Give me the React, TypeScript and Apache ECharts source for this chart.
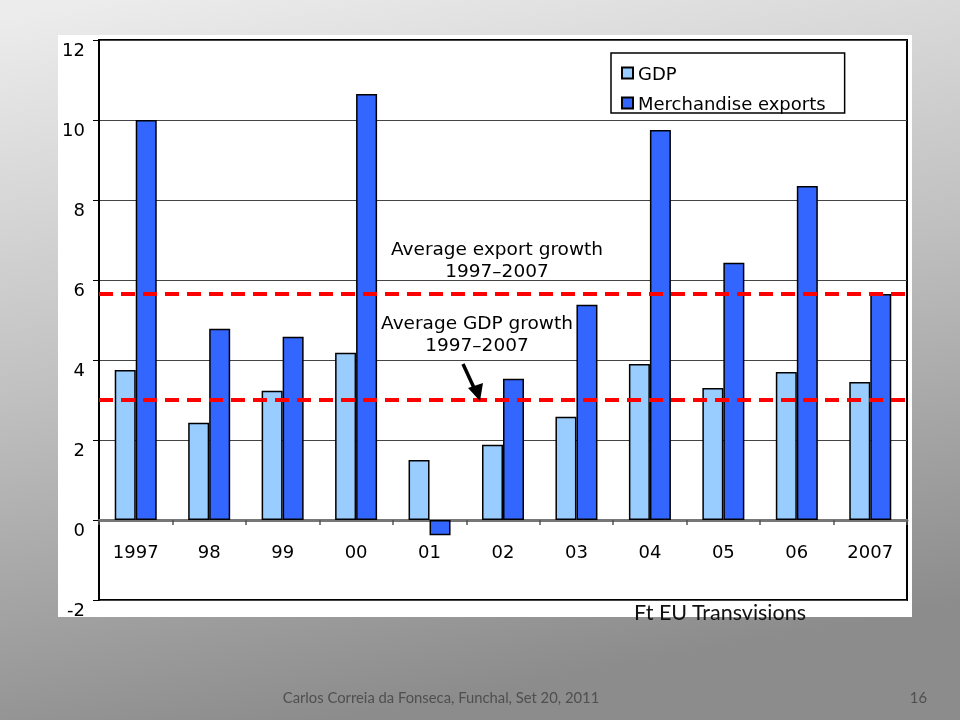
import React, { useEffect, useRef } from "react";
import * as echarts from "echarts";

const categories = ["1997", "98", "99", "00", "01", "02", "03", "04", "05", "06", "2007"];
const gdpValues = [3.75, 2.43, 3.23, 4.18, 1.5, 1.88, 2.58, 3.9, 3.3, 3.7, 3.45];
const exportValues = [10.0, 4.78, 4.58, 10.65, -0.38, 3.53, 5.38, 9.75, 6.43, 8.35, 5.65];
const averageLines = [5.65, 3.0];
const seriesNames = ["GDP", "Merchandise exports"];
const yTicks = { min: -2, max: 12, interval: 2 };

const CHART_FONT = "'DejaVu Sans', Verdana, sans-serif";
const SLIDE_FONT = "Lato, 'Open Sans', sans-serif";

export default function App() {
  const ref = useRef<HTMLDivElement>(null);

  useEffect(() => {
    if (!ref.current) return;
    const chart = echarts.init(ref.current, undefined, { renderer: "svg" });
    const option: any = {
      animation: false,
      graphic: [
        {
          type: "rect",
          z: -100,
          silent: true,
          shape: { x: 0, y: 0, width: 960, height: 720 },
          style: {
            fill: new echarts.graphic.LinearGradient(0.1, 0, 0.35, 1, [
              { offset: 0, color: "#ececec" },
              { offset: 0.5, color: "#c0c0c0" },
              { offset: 1, color: "#8c8c8c" },
            ]),
          },
        },
        {
          type: "rect",
          z: -90,
          silent: true,
          shape: { x: 58, y: 35, width: 854, height: 582 },
          style: { fill: "#ffffff" },
        },
        {
          type: "text",
          z: 100,
          style: {
            x: 497, y: 248, text: "Average export growth", align: "center", verticalAlign: "middle",
            font: `18.5px ${CHART_FONT}`, fill: "#000",
          },
        },
        {
          type: "text",
          z: 100,
          style: {
            x: 497, y: 270, text: "1997\u20132007", align: "center", verticalAlign: "middle",
            font: `18.5px ${CHART_FONT}`, fill: "#000",
          },
        },
        {
          type: "text",
          z: 100,
          style: {
            x: 477, y: 322, text: "Average GDP growth", align: "center", verticalAlign: "middle",
            font: `18.5px ${CHART_FONT}`, fill: "#000",
          },
        },
        {
          type: "text",
          z: 100,
          style: {
            x: 477, y: 344, text: "1997\u20132007", align: "center", verticalAlign: "middle",
            font: `18.5px ${CHART_FONT}`, fill: "#000",
          },
        },
        {
          type: "line",
          z: 100,
          shape: { x1: 463, y1: 364, x2: 475, y2: 390 },
          style: { stroke: "#000", lineWidth: 3.5 },
        },
        {
          type: "polygon",
          z: 100,
          shape: { points: [[468, 388], [483, 383], [480, 401]] },
          style: { fill: "#000" },
        },
        {
          type: "text",
          z: 100,
          style: {
            x: 634, y: 612, text: "Ft EU Transvisions", align: "left", verticalAlign: "middle",
            font: `21.5px ${SLIDE_FONT}`, fill: "#111",
          },
        },
        {
          type: "text",
          z: 100,
          style: {
            x: 441, y: 697, text: "Carlos Correia da Fonseca, Funchal, Set 20, 2011", align: "center",
            verticalAlign: "middle", font: `14.8px ${SLIDE_FONT}`, fill: "#4f4f4f",
          },
        },
        {
          type: "text",
          z: 100,
          style: {
            x: 927, y: 697, text: "16", align: "right", verticalAlign: "middle",
            font: `14.8px ${SLIDE_FONT}`, fill: "#4f4f4f",
          },
        },
      ],
      grid: {
        left: 99,
        right: 53,
        top: 40,
        bottom: 120,
        show: true,
        borderColor: "#000",
        borderWidth: 2,
        backgroundColor: "transparent",
      },
      legend: {
        data: seriesNames,
        orient: "vertical",
        left: 611,
        top: 53,
        backgroundColor: "#fff",
        borderColor: "#000",
        borderWidth: 1.5,
        padding: [11, 19, 1, 10],
        itemGap: 12,
        itemWidth: 11,
        itemHeight: 11,
        icon: "rect",
        textStyle: { fontFamily: CHART_FONT, fontSize: 18, color: "#000" },
      },
      xAxis: {
        type: "category",
        data: categories,
        offset: -80,
        axisLine: { onZero: false, lineStyle: { color: "#777", width: 3 } },
        axisTick: { show: true, length: 5, lineStyle: { color: "#555", width: 1.5 } },
        axisLabel: { margin: 22, fontFamily: CHART_FONT, fontSize: 18, color: "#000" },
        splitLine: { show: false },
      },
      yAxis: {
        type: "value",
        min: yTicks.min,
        max: yTicks.max,
        interval: yTicks.interval,
        axisLine: { show: true, lineStyle: { color: "#000", width: 2 } },
        axisTick: { show: true, length: 6, lineStyle: { color: "#000", width: 1 } },
        axisLabel: {
          margin: 14,
          fontFamily: CHART_FONT,
          fontSize: 18,
          color: "#000",
          verticalAlign: "top",
        },
        splitLine: { show: true, lineStyle: { color: "#444", width: 1 } },
      },
      series: [
        {
          name: seriesNames[0],
          type: "bar",
          data: gdpValues,
          barWidth: 21,
          barGap: "0%",
          itemStyle: { color: "#99ccff", borderColor: "#000", borderWidth: 1.5 },
        },
        {
          name: seriesNames[1],
          type: "bar",
          data: exportValues,
          barWidth: 21,
          barGap: "0%",
          itemStyle: { color: "#3366ff", borderColor: "#000", borderWidth: 1.5 },
          markLine: {
            silent: true,
            symbol: "none",
            label: { show: false },
            lineStyle: { color: "#ff0000", type: [14, 8], width: 4 },
            data: averageLines.map((v) => ({ yAxis: v })),
            z: 10,
          },
        },
      ],
    };
    chart.setOption(option);
    return () => chart.dispose();
  }, []);

  return (
    <div
      ref={ref}
      style={{ position: "fixed", left: 0, top: 0, width: 960, height: 720 }}
    />
  );
}
